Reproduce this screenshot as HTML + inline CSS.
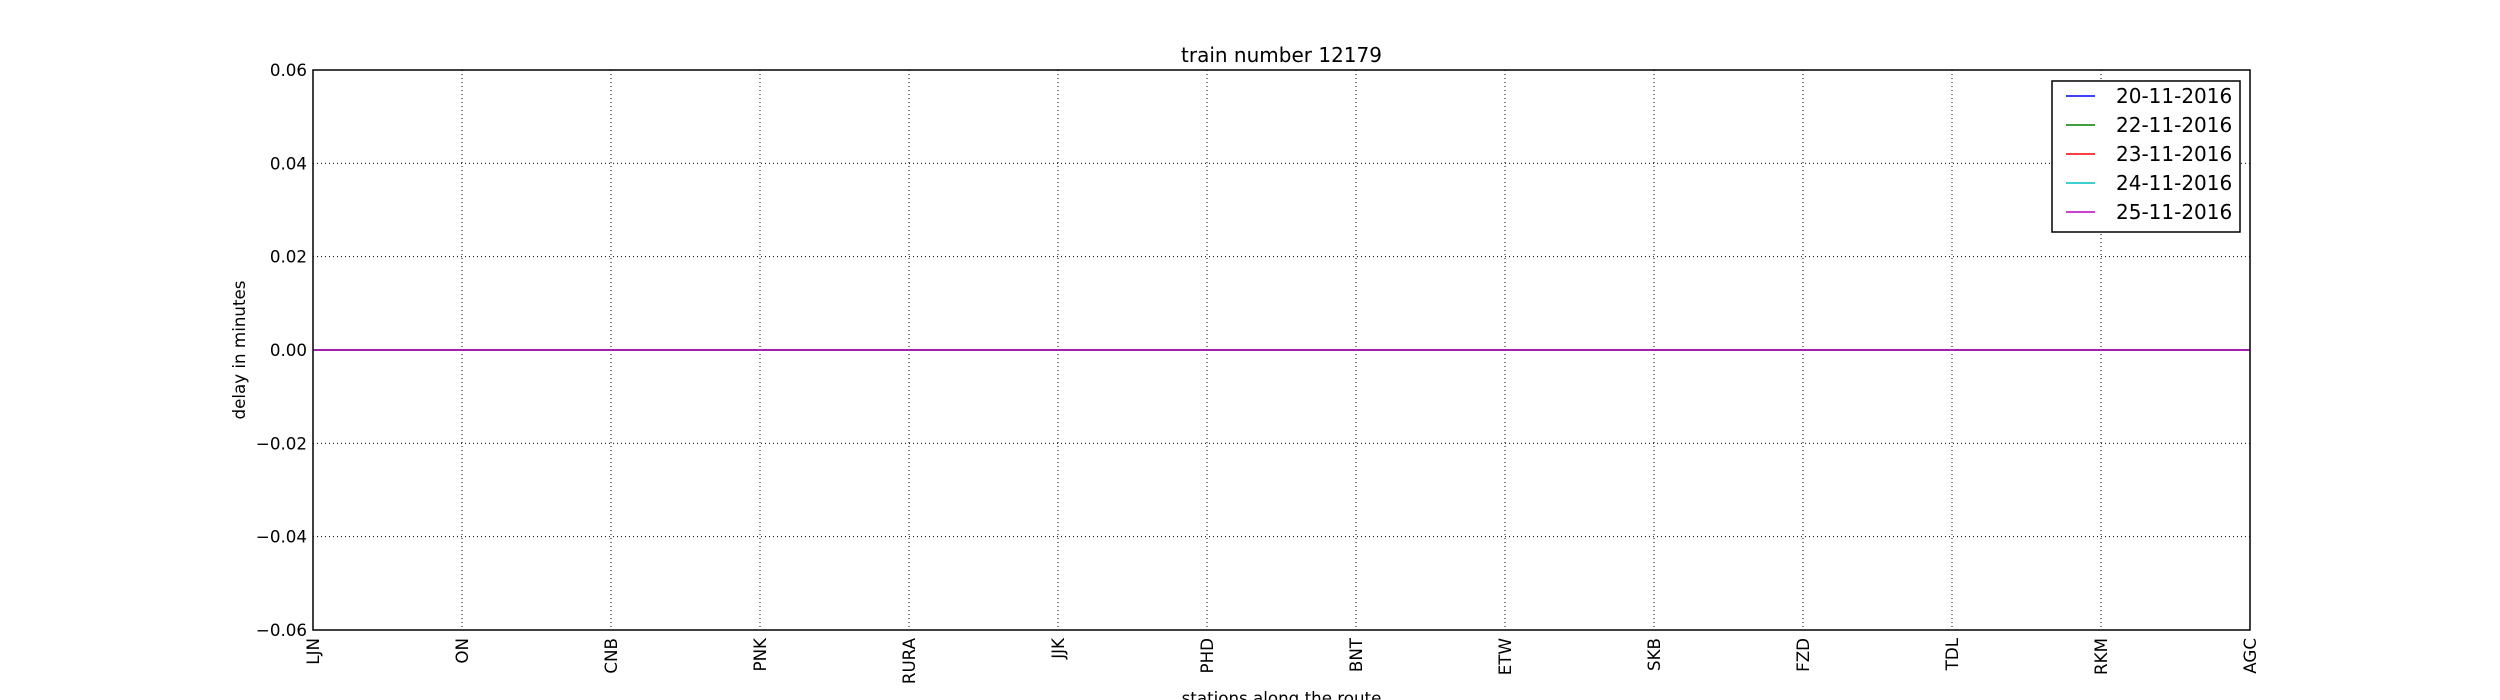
<!DOCTYPE html>
<html><head><meta charset="utf-8"><style>
body{margin:0;background:#fff}
svg{display:block;font-family:"DejaVu Sans","Liberation Sans",sans-serif}
</style></head><body>
<svg id="chart" width="2500" height="700">
<rect width="2500" height="700" fill="#fff"/>
<g id="grid"></g><g id="series"></g><g id="axes"></g><g id="legend"></g>
</svg>
<script>
const stations=["LJN","ON","CNB","PNK","RURA","JJK","PHD","BNT","ETW","SKB","FZD","TDL","RKM","AGC"];
const dates=["20-11-2016","22-11-2016","23-11-2016","24-11-2016","25-11-2016"];
const colors=["#0000ff","#008000","#ff0000","#00bfbf","#bf00bf"];
const d1=[0,0,0,0,0,0,0,0,0,0,0,0,0,0];
const d2=[0,0,0,0,0,0,0,0,0,0,0,0,0,0];
const d3=[0,0,0,0,0,0,0,0,0,0,0,0,0,0];
const d4=[0,0,0,0,0,0,0,0,0,0,0,0,0,0];
const d5=[0,0,0,0,0,0,0,0,0,0,0,0,0,0];
const yTicks=[-0.06,-0.04,-0.02,0,0.02,0.04,0.06];
const yTickLabels=["\u22120.06","\u22120.04","\u22120.02","0.00","0.02","0.04","0.06"];
const L=313,R=2250,T=70,B=630;
const NS="http://www.w3.org/2000/svg";
const xs=i=>L+(R-L)*i/(stations.length-1);
const ys=v=>B-(v-yTicks[0])/(yTicks[yTicks.length-1]-yTicks[0])*(B-T);
function mk(tag,at,parent,txt){const e=document.createElementNS(NS,tag);for(const k in at)e.setAttribute(k,at[k]);if(txt!==undefined)e.textContent=txt;parent.appendChild(e);return e;}
const grid=document.getElementById('grid'),axes=document.getElementById('axes'),ser=document.getElementById('series'),leg=document.getElementById('legend');
stations.forEach((s,i)=>{
 const x=xs(i);
 const g=mk('line',{x1:x,x2:x,y1:T,y2:B,stroke:'#000','stroke-width':1,'stroke-dasharray':'1,3'},grid);
 
 
 const t=mk('text',{transform:`translate(${x+6},${B+8}) rotate(-90)`,'text-anchor':'end','font-size':16.7},axes,s);
 
 
});
yTicks.forEach((v,i)=>{
 const y=ys(v);
 const g=mk('line',{x1:L,x2:R,y1:y,y2:y,stroke:'#000','stroke-width':1,'stroke-dasharray':'1,3'},grid);
 
 
 const t=mk('text',{x:L-6,y:y+6,'text-anchor':'end','font-size':16.7},axes,yTickLabels[i]);
 
 
});
[d1,d2,d3,d4,d5].forEach((d,k)=>{
 const p=mk('polyline',{points:d.map((v,i)=>xs(i)+','+ys(v)).join(' '),fill:'none',stroke:colors[k],'stroke-width':1.5},ser);
 
 
});
const frame=mk('rect',{x:L,y:T,width:R-L,height:B-T,fill:'none',stroke:'#000','stroke-width':1.5},axes);


const ttl=mk('text',{x:(L+R)/2,y:62,'text-anchor':'middle','font-size':20},axes,'train number 12179');


const xl=mk('text',{x:(L+R)/2,y:704,'text-anchor':'middle','font-size':16.7},axes,'stations along the route');


const yl=mk('text',{transform:`translate(245,${(T+B)/2}) rotate(-90)`,'text-anchor':'middle','font-size':16.7},axes,'delay in minutes');


const lb=mk('rect',{x:2052,y:81,width:188,height:151,fill:'#fff',stroke:'#000','stroke-width':1.5},leg);


dates.forEach((d,k)=>{
 const y=96+k*29;
 const ln=mk('line',{x1:2066,x2:2095,y1:y,y2:y,stroke:colors[k],'stroke-width':1.5},leg);
 
 
 const t=mk('text',{x:2116,y:y+7,'font-size':20},leg,d);
 
 
});
</script>
</body></html>
